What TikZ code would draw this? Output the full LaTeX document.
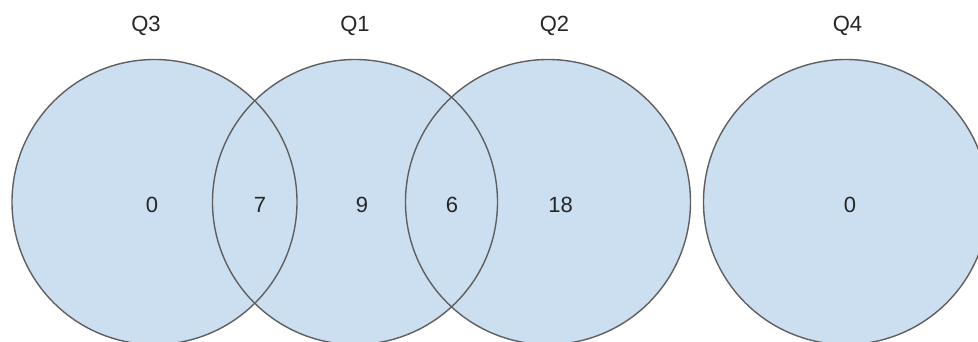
\documentclass[tikz,border=0pt]{standalone}
\usepackage{fontspec}
\setmainfont{Liberation Sans}
\definecolor{vennfill}{RGB}{204,223,241}
\definecolor{vennline}{RGB}{95,95,95}
\begin{document}
\begin{tikzpicture}[x=1pt,y=-1pt,
  vset/.style={circle, fill=vennfill, draw=none, minimum size=285pt, inner sep=0pt},
  vline/.style={draw=vennline, line width=1.4pt},
  txt/.style={font=\fontsize{22}{22}\selectfont, text=black!85, anchor=base, inner sep=0pt}]
\useasboundingbox (0,0) rectangle (978,342);
\clip (0,0) rectangle (978,342);
% sets
\node[vset] (q3) at (154.5,202) {};
\node[vset] (q1) at (355,202) {};
\node[vset] (q2) at (548,202) {};
\node[vset] (q4) at (846,202) {};
\foreach \n in {q3,q1,q2,q4}
  \draw[vline] (\n.center) circle[radius=142.5];
% titles
\node[txt] (t3) at (146,31.5) {Q3};
\node[txt] (t1) at (355,31.5) {Q1};
\node[txt] (t2) at (554.5,31.5) {Q2};
\node[txt] (t4) at (847.5,31.5) {Q4};
% counts
\node[txt] (n3) at (152,212) {0};
\node[txt] (n31) at (260,212) {7};
\node[txt] (n1) at (362,212) {9};
\node[txt] (n12) at (452,212) {6};
\node[txt] (n2) at (560.5,212) {18};
\node[txt] (n4) at (850,212) {0};
\end{tikzpicture}
\end{document}
